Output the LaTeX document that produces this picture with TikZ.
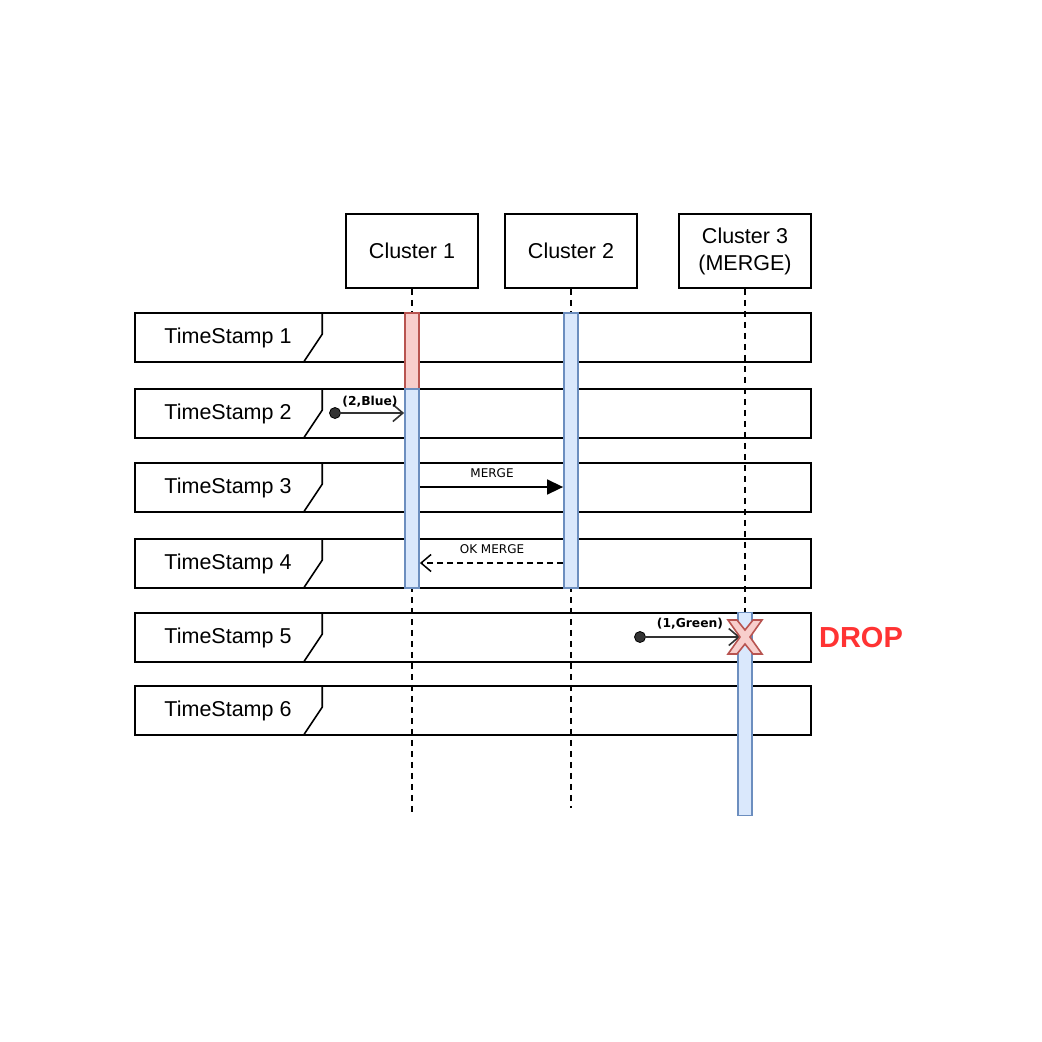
\documentclass[tikz,border=0pt]{standalone}
\usepackage{fontspec}
\setmainfont{Liberation Sans}
\newfontfamily\dejavu{DejaVu Sans}
\usetikzlibrary{arrows.meta}
\definecolor{bluefill}{HTML}{DAE8FC}
\definecolor{bluedraw}{HTML}{6C8EBF}
\definecolor{redfill}{HTML}{F8CECC}
\definecolor{reddraw}{HTML}{B85450}
\definecolor{dropred}{HTML}{FF3333}
\definecolor{msggray}{HTML}{333333}
\tikzset{
  clusterbox/.style={draw, line width=1.6pt, fill=white, minimum width=132pt, minimum height=74pt, inner sep=0pt, align=center, font=\fontsize{21.5}{27}\selectfont},
  framebox/.style={draw, line width=1.6pt, fill=white, minimum width=676pt, minimum height=49pt, inner sep=0pt},
  framelabel/.style={font=\fontsize{21.5}{26}\selectfont, inner sep=0pt},
  lifeline/.style={line width=1.4pt, dash pattern=on 6pt off 5pt},
  bluebar/.style={draw=bluedraw, fill=bluefill, line width=1.8pt, minimum width=14pt, inner sep=0pt},
  redbar/.style={draw=reddraw, fill=redfill, line width=1.8pt, minimum width=14pt, inner sep=0pt},
  msglabel/.style={font=\dejavu\fontsize{12}{14}\selectfont, inner sep=0pt},
  boldlabel/.style={font=\dejavu\bfseries\fontsize{12.3}{14}\selectfont, inner sep=0pt},
  dot/.style={circle, fill=msggray, draw=black, line width=0.8pt, minimum size=11pt, inner sep=0pt},
  foundmsg/.style={draw=msggray, line width=1.6pt, -{Straight Barb[length=10pt,width=17pt,line width=1.6pt]}},
}
\begin{document}
\begin{tikzpicture}[x=1pt,y=-1pt]
\useasboundingbox (0,0) rectangle (1042,1042);
% frames
\foreach \i/\yy in {1/337.5,2/413.5,3/487.5,4/563.5,5/637.5,6/710.5}{
  \node[framebox] (f\i) at (473,\yy) {};
  \draw[line width=1.6pt] (f\i.north west) ++(188,0) -- ++(0,22) -- ++(-18,27);
  \node[framelabel] (t\i) at (228,\yy) {TimeStamp \i};
}
% clusters
\node[clusterbox] (c1) at (412,251) {Cluster 1};
\node[clusterbox] (c2) at (571,251) {Cluster 2};
\node[clusterbox] (c3) at (745,251) {Cluster 3\\(MERGE)};
% lifelines
\coordinate (e1) at (412,813);
\coordinate (e2) at (571,808);
\coordinate (e3) at (745,816);
\draw[lifeline] (c1.south) -- (e1);
\draw[lifeline] (c2.south) -- (e2);
\draw[lifeline] (c3.south) -- (e3);
% activation bars
\node[redbar, minimum height=76pt] (r1) at (412,351) {};
\node[bluebar, minimum height=199pt] (b1) at (412,488.5) {};
\node[bluebar, minimum height=275pt] (b2) at (571,450.5) {};
\node[bluebar, minimum height=203pt] (b3) at (745,714) {};
% message (2,Blue)
\node[dot] (d1) at (335,413) {};
\draw[foundmsg] (d1.center) -- (b1.west |- d1.center);
\node[boldlabel] (l1) at (370,402) {(2,Blue)};
% MERGE
\coordinate (m1) at (412,487);
\draw[line width=1.5pt, -{Triangle[length=16pt,width=15pt]}] (b1.east |- m1) -- (b2.west |- m1);
\node[msglabel] (l2) at (492,473) {MERGE};
% OK MERGE
\coordinate (m2) at (412,563);
\draw[line width=1.5pt, dash pattern=on 6pt off 4pt, -{Straight Barb[length=10pt,width=17pt,line width=1.5pt]}] (b2.west |- m2) -- (b1.east |- m2);
\node[msglabel] (l3) at (492,549) {OK MERGE};
% message (1,Green)
\node[dot] (d2) at (640,637) {};
\coordinate (xc) at (745,637);
\draw[foundmsg] (d2.center) -- ([xshift=-5pt]xc);
\node[boldlabel] (l4) at (690,624) {(1,Green)};
% X
\draw[draw=reddraw, fill=redfill, line width=1.6pt, line join=miter]
  ([shift={(-17,-17)}]xc) -- ([shift={(-8,-17)}]xc) -- ([shift={(0,-7)}]xc) -- ([shift={(8,-17)}]xc)
  -- ([shift={(17,-17)}]xc) -- ([shift={(5,0)}]xc) -- ([shift={(17,17)}]xc) -- ([shift={(8,17)}]xc)
  -- ([shift={(0,7)}]xc) -- ([shift={(-8,17)}]xc) -- ([shift={(-17,17)}]xc) -- ([shift={(-5,0)}]xc) -- cycle;
\node[font=\bfseries\fontsize{29}{34}\selectfont, text=dropred, inner sep=0pt] (drop) at (861,638) {DROP};
\end{tikzpicture}
\end{document}
